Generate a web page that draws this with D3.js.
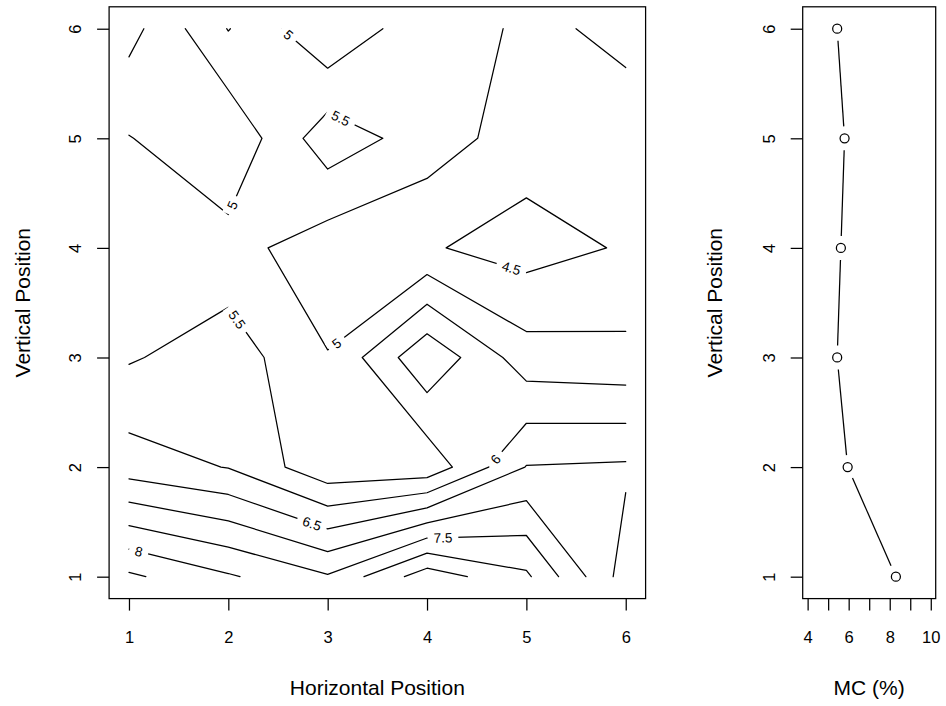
<!DOCTYPE html>
<html><head><meta charset="utf-8">
<script src="https://cdn.jsdelivr.net/npm/d3@7"></script>
<style>
body{margin:0;background:#fff}
svg{display:block}
text{font-family:"Liberation Sans",Arial,Helvetica,sans-serif;fill:#000}
</style>
</head><body>
<svg id="c" width="946" height="706"></svg>
<script>
// ---------------- data ----------------
const xPos = [1, 2, 3, 4, 5, 6];           // horizontal grid positions
const yPos = [1, 2, 3, 4, 5, 6];           // vertical grid positions
// MC values on the grid, one row per vertical position (y = 1 ... 6), columns x = 1 ... 6
const zRow1 = [8.59, 8.06, 7.55, 8.78, 8.09, 6.27];
const zRow2 = [6.25, 5.98, 5.14, 5.15, 6.52, 6.57];
const zRow3 = [5.45, 5.77, 5.02, 6.40, 5.22, 5.14];
const zRow4 = [5.30, 5.18, 4.73, 4.55, 4.29, 4.55];
const zRow5 = [5.02, 4.59, 5.80, 5.26, 4.75, 4.80];
const zRow6 = [4.32, 5.52, 4.55, 5.36, 4.89, 5.11];
const levels = [4.5, 5, 5.5, 6, 6.5, 7, 7.5, 8, 8.5];
// labelled contours: level and approximate place (data units) on the line
const labelLevels = [5, 5.5, 5, 5.5, 5, 4.5, 6, 6.5, 7.5, 8];
const labelAtX   = [2.60, 3.13, 2.04, 2.08, 3.08, 4.85, 4.68, 2.84, 4.16, 1.095];
const labelAtY   = [5.94, 5.18, 4.39, 3.34, 3.14, 3.82, 2.08, 1.48, 1.36, 1.22];
// profile panel
const mcProfile = [8.30, 5.95, 5.44, 5.62, 5.80, 5.44];   // for y = 1 ... 6
const posTicks = [1, 2, 3, 4, 5, 6];
const mcTicks = [4, 5, 6, 7, 8, 9, 10];
const mcTickLabels = [4, 6, 8, 10];

// ---------------- setup ----------------
const z = [zRow1, zRow2, zRow3, zRow4, zRow5, zRow6];
const svg = d3.select("#c");
const x = d3.scaleLinear().domain([0.8, 6.2]).range([109.1, 645.6]);
const y = d3.scaleLinear().domain([0.8, 6.2]).range([598.6, 6.8]);
const x2 = d3.scaleLinear().domain([3.76, 10.24]).range([802.7, 935.7]);
const TICK = 12, TICKFS = 16.5, TITLEFS = 21, LABFS = 13.5, LW = 1.25, LABPAD = 6;

// ---------------- contour lines (marching squares) ----------------
function contourLines(L) {
  const segs = [];
  const c = (a, b) => (a >= L) !== (b >= L);
  const t = (a, b) => (L - a) / (b - a);
  for (let j = 0; j < yPos.length - 1; j++) for (let i = 0; i < xPos.length - 1; i++) {
    const v00 = z[j][i], v10 = z[j][i + 1], v01 = z[j + 1][i], v11 = z[j + 1][i + 1];
    const e = {};
    if (c(v00, v10)) e.b = {k: `h${i}_${j}`, p: [xPos[i] + t(v00, v10) * (xPos[i + 1] - xPos[i]), yPos[j]]};
    if (c(v01, v11)) e.t = {k: `h${i}_${j + 1}`, p: [xPos[i] + t(v01, v11) * (xPos[i + 1] - xPos[i]), yPos[j + 1]]};
    if (c(v00, v01)) e.l = {k: `v${i}_${j}`, p: [xPos[i], yPos[j] + t(v00, v01) * (yPos[j + 1] - yPos[j])]};
    if (c(v10, v11)) e.r = {k: `v${i + 1}_${j}`, p: [xPos[i + 1], yPos[j] + t(v10, v11) * (yPos[j + 1] - yPos[j])]};
    const ks = Object.keys(e);
    if (ks.length === 2) segs.push([e[ks[0]], e[ks[1]]]);
    else if (ks.length === 4) {
      const ctr = (v00 + v10 + v01 + v11) / 4;
      if ((ctr >= L) === (v00 >= L)) { segs.push([e.b, e.r]); segs.push([e.l, e.t]); }
      else { segs.push([e.b, e.l]); segs.push([e.t, e.r]); }
    }
  }
  const byKey = new Map();
  segs.forEach((s, idx) => s.forEach(n => { if (!byKey.has(n.k)) byKey.set(n.k, []); byKey.get(n.k).push(idx); }));
  const used = new Array(segs.length).fill(false);
  const lines = [];
  function walk(idx, node) {
    const pts = [node.p];
    while (idx !== undefined && !used[idx]) {
      used[idx] = true;
      const s = segs[idx];
      const other = s[0].k === node.k ? s[1] : s[0];
      pts.push(other.p);
      const nb = byKey.get(other.k).filter(q => q !== idx && !used[q]);
      node = other; idx = nb[0];
    }
    return pts;
  }
  byKey.forEach((arr, k) => {
    if (arr.length === 1 && !used[arr[0]]) {
      const s = segs[arr[0]];
      lines.push(walk(arr[0], s[0].k === k ? s[0] : s[1]));
    }
  });
  segs.forEach((s, idx) => { if (!used[idx]) lines.push(walk(idx, s[0])); });
  return lines;
}

const defs = svg.append("defs");
const line = d3.line().x(d => x(d[0])).y(d => y(d[1]));
const gContours = svg.append("g");
const gLabels = svg.append("g");
const linesByLevel = new Map();
levels.forEach((L, li) => {
  const lines = contourLines(L);
  linesByLevel.set(L, lines);
  const m = defs.append("mask").attr("id", "m" + li).attr("maskUnits", "userSpaceOnUse")
    .attr("x", 0).attr("y", 0).attr("width", 946).attr("height", 706);
  m.append("rect").attr("width", 946).attr("height", 706).attr("fill", "#fff");
  gContours.append("g").attr("mask", `url(#m${li})`)
    .selectAll("path").data(lines).join("path")
    .attr("d", line).attr("fill", "none").attr("stroke", "#000").attr("stroke-width", LW)
    .attr("stroke-linejoin", "round").attr("stroke-linecap", "round");
});

// labels
labelLevels.forEach((L, n) => {
  const lines = linesByLevel.get(L);
  const hx = x(labelAtX[n]), hy = y(labelAtY[n]);
  let best = null;
  lines.forEach(pl => {
    for (let k = 0; k < pl.length - 1; k++) {
      const ax = x(pl[k][0]), ay = y(pl[k][1]), bx = x(pl[k + 1][0]), by = y(pl[k + 1][1]);
      const dx = bx - ax, dy = by - ay, len2 = dx * dx + dy * dy || 1;
      let u = ((hx - ax) * dx + (hy - ay) * dy) / len2;
      u = Math.max(0, Math.min(1, u));
      const px = ax + u * dx, py = ay + u * dy;
      const d = Math.hypot(px - hx, py - hy);
      if (!best || d < best.d) best = {d, px, py, ang: Math.atan2(dy, dx) * 180 / Math.PI};
    }
  });
  let a = best.ang;
  if (a > 90) a -= 180;
  if (a < -90) a += 180;
  const txt = gLabels.append("text")
    .attr("transform", `translate(${best.px},${best.py}) rotate(${a})`)
    .attr("text-anchor", "middle").attr("dy", "0.36em")
    .style("font-size", LABFS + "px").text(String(L));
  const w = txt.node().getComputedTextLength();
  const li = levels.indexOf(L);
  d3.select("#m" + li).append("rect")
    .attr("transform", `translate(${best.px},${best.py}) rotate(${a})`)
    .attr("x", -w / 2 - LABPAD).attr("y", -LABFS * 0.5).attr("width", w + 2 * LABPAD).attr("height", LABFS)
    .attr("fill", "#000");
});

// ---------------- left panel frame and axes ----------------
svg.append("rect").attr("x", x(0.8)).attr("y", y(6.2))
  .attr("width", x(6.2) - x(0.8)).attr("height", y(0.8) - y(6.2))
  .attr("fill", "none").attr("stroke", "#000").attr("stroke-width", LW);

function styleAxis(g) {
  g.select(".domain").remove();
  g.selectAll("line").attr("stroke", "#000").attr("stroke-width", LW);
  g.selectAll("text").style("font-size", TICKFS + "px").attr("fill", "#000")
    .style("font-family", '"Liberation Sans",Arial,Helvetica,sans-serif');
}
const axB = svg.append("g").attr("transform", `translate(0,${y(0.8)})`)
  .call(d3.axisBottom(x).tickValues(posTicks).tickFormat(d3.format("d")).tickSize(TICK).tickPadding(21));
styleAxis(axB);
const axL = svg.append("g").attr("transform", `translate(${x(0.8)},0)`)
  .call(d3.axisLeft(y).tickValues(posTicks).tickFormat(d3.format("d")).tickSize(TICK));
styleAxis(axL);
axL.selectAll("text").attr("transform", "rotate(-90)").attr("x", 0).attr("y", -28).attr("dy", 0)
  .attr("text-anchor", "middle");

svg.append("text").attr("x", (x(0.8) + x(6.2)) / 2).attr("y", 695).attr("text-anchor", "middle")
  .style("font-size", TITLEFS + "px").text("Horizontal Position");
svg.append("text").attr("transform", `translate(30,${(y(0.8) + y(6.2)) / 2}) rotate(-90)`)
  .attr("text-anchor", "middle").style("font-size", TITLEFS + "px").text("Vertical Position");

// ---------------- right panel ----------------
svg.append("rect").attr("x", x2(3.76)).attr("y", y(6.2))
  .attr("width", x2(10.24) - x2(3.76)).attr("height", y(0.8) - y(6.2))
  .attr("fill", "none").attr("stroke", "#000").attr("stroke-width", LW);
const axB2 = svg.append("g").attr("transform", `translate(0,${y(0.8)})`)
  .call(d3.axisBottom(x2).tickValues(mcTicks)
    .tickFormat(d => mcTickLabels.includes(d) ? String(d) : "").tickSize(TICK).tickPadding(21));
styleAxis(axB2);
const axL2 = svg.append("g").attr("transform", `translate(${x2(3.76)},0)`)
  .call(d3.axisLeft(y).tickValues(posTicks).tickFormat(d3.format("d")).tickSize(TICK));
styleAxis(axL2);
axL2.selectAll("text").attr("transform", "rotate(-90)").attr("x", 0).attr("y", -28).attr("dy", 0)
  .attr("text-anchor", "middle");
svg.append("text").attr("x", (x2(3.76) + x2(10.24)) / 2).attr("y", 695).attr("text-anchor", "middle")
  .style("font-size", TITLEFS + "px").text("MC (%)");
svg.append("text").attr("transform", `translate(722,${(y(0.8) + y(6.2)) / 2}) rotate(-90)`)
  .attr("text-anchor", "middle").style("font-size", TITLEFS + "px").text("Vertical Position");

const pts = mcProfile.map((v, i) => [x2(v), y(yPos[i])]);
const GAP = 12;
const segData = d3.pairs(pts).map(([p, q]) => {
  const dx = q[0] - p[0], dy = q[1] - p[1], d = Math.hypot(dx, dy);
  return d > 2 * GAP ? [[p[0] + dx / d * GAP, p[1] + dy / d * GAP], [q[0] - dx / d * GAP, q[1] - dy / d * GAP]] : null;
}).filter(Boolean);
svg.append("g").selectAll("path").data(segData).join("path")
  .attr("d", d3.line()).attr("fill", "none").attr("stroke", "#000").attr("stroke-width", LW);
svg.append("g").selectAll("circle").data(mcProfile).join("circle")
  .attr("cx", d => x2(d)).attr("cy", (d, i) => y(yPos[i])).attr("r", 4.5)
  .attr("fill", "none").attr("stroke", "#000").attr("stroke-width", LW);
</script>
</body></html>
